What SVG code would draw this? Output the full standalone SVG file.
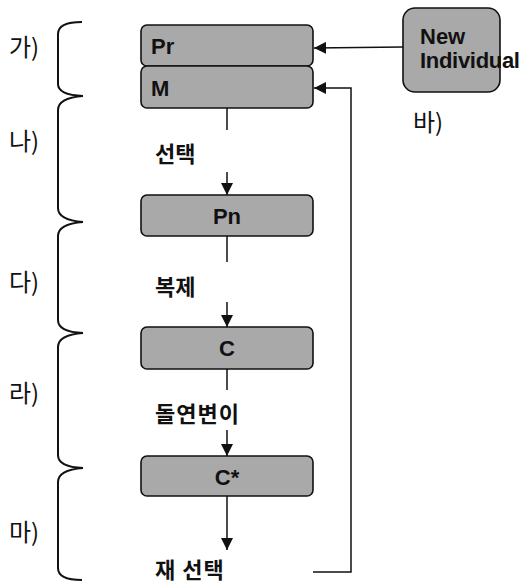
<svg xmlns="http://www.w3.org/2000/svg" width="528" height="584" viewBox="0 0 528 584">
  <style>
    .box { fill: #a9a9a9; stroke: #111; stroke-width: 1.6; }
    .btxt { font-family: "Liberation Sans", Arial, sans-serif; font-weight: bold; font-size: 22px; fill: #111; }
    .ko { font-family: "Noto Sans CJK KR", "Noto Sans", sans-serif; font-size: 24px; fill: #111; }
    .step { font-family: "Noto Sans CJK KR", "Noto Sans", sans-serif; font-size: 22px; font-weight: bold; fill: #111; }
    .brace { fill: none; stroke: #111; stroke-width: 2; }
    .wire { fill: none; stroke: #111; stroke-width: 1.5; }
  </style>
  <defs>
    <marker id="arrow" viewBox="0 0 12 12" refX="12" refY="6" markerWidth="12" markerHeight="12" markerUnits="userSpaceOnUse" orient="auto">
      <path d="M0,0 L12,6 L0,12 Z" fill="#111"/>
    </marker>
  </defs>

  <!-- section braces -->
  <g id="braces">
    <path class="brace" d="M82,22 Q58,22 58,34 L58,84 Q58,95 83,96"/>
    <path class="brace" d="M83,96 Q58,98 58,110 L58,208 Q58,220 83,222"/>
    <path class="brace" d="M83,222 Q58,224 58,236 L58,320 Q58,332 83,333"/>
    <path class="brace" d="M83,333 Q58,335 58,347 L58,455 Q58,467 83,468"/>
    <path class="brace" d="M83,468 Q58,470 58,482 L58,568 Q58,580 82,580"/>
  </g>

  <!-- section labels -->
  <g id="labels">
    <text class="ko" x="9" y="56">가)</text>
    <text class="ko" x="9" y="150">나)</text>
    <text class="ko" x="9" y="291">다)</text>
    <text class="ko" x="9" y="402">라)</text>
    <text class="ko" x="9" y="541">마)</text>
    <text class="ko" x="413" y="131">바)</text>
  </g>

  <!-- connectors -->
  <g id="connectors">
    <line class="wire" x1="403" y1="47" x2="314" y2="48" marker-end="url(#arrow)"/>
    <line class="wire" x1="227" y1="108" x2="227" y2="130"/>
    <line class="wire" x1="227" y1="172" x2="227" y2="195" marker-end="url(#arrow)"/>
    <line class="wire" x1="227" y1="236" x2="227" y2="262"/>
    <line class="wire" x1="227" y1="302" x2="227" y2="327" marker-end="url(#arrow)"/>
    <line class="wire" x1="227" y1="369" x2="227" y2="390"/>
    <line class="wire" x1="227" y1="430" x2="227" y2="456" marker-end="url(#arrow)"/>
    <line class="wire" x1="227" y1="496" x2="227" y2="550" stroke-width="2" marker-end="url(#arrow)"/>
    <polyline class="wire" stroke-width="2" points="313,572 351,572 351,88 314,88" marker-end="url(#arrow)"/>
  </g>

  <!-- step labels on the main flow -->
  <g id="steps">
    <text class="step" x="155" y="162">선택</text>
    <text class="step" x="155" y="295">복제</text>
    <text class="step" x="155" y="422" letter-spacing="1">돌연변이</text>
    <text class="step" x="155" y="578" letter-spacing="1">재 선택</text>
  </g>

  <g id="node-pr">
    <rect class="box" x="141" y="25" width="172" height="41" rx="6"/>
    <text class="btxt" x="151" y="54">Pr</text>
  </g>
  <g id="node-m">
    <rect class="box" x="141" y="66" width="172" height="42" rx="6"/>
    <text class="btxt" x="151" y="96">M</text>
  </g>
  <g id="node-pn">
    <rect class="box" x="141" y="195" width="172" height="41" rx="6"/>
    <text class="btxt" x="227" y="224" text-anchor="middle">Pn</text>
  </g>
  <g id="node-c">
    <rect class="box" x="141" y="327" width="172" height="42" rx="6"/>
    <text class="btxt" x="227" y="356" text-anchor="middle">C</text>
  </g>
  <g id="node-cstar">
    <rect class="box" x="141" y="456" width="172" height="40" rx="6"/>
    <text class="btxt" x="227" y="485" text-anchor="middle">C*</text>
  </g>
  <g id="node-new">
    <rect class="box" x="403" y="8" width="97" height="84" rx="12"/>
    <text class="btxt" x="420" y="44" font-size="23">New</text>
    <text class="btxt" x="420" y="68" font-size="23" letter-spacing="-0.3">Individual</text>
  </g>
</svg>
